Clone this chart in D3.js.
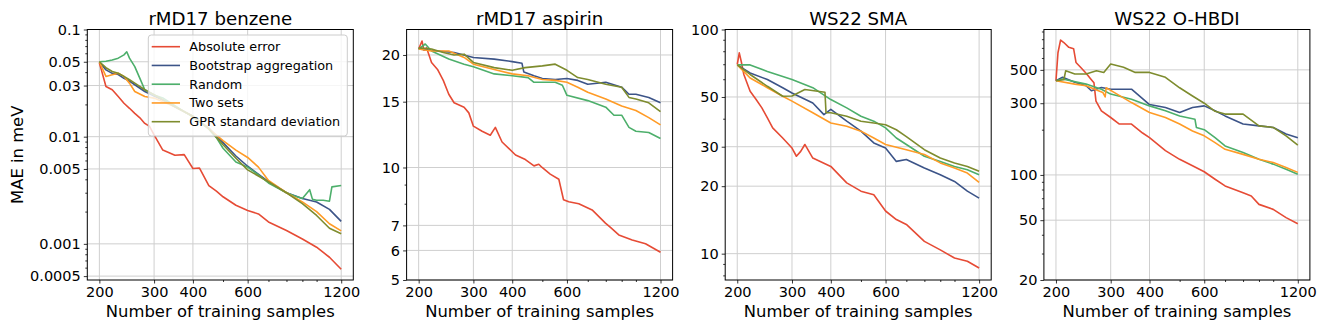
<!DOCTYPE html>
<html>
<head>
<meta charset="utf-8">
<script src="https://cdn.jsdelivr.net/npm/d3@7"></script>
<style>
  body { margin: 0; background: #fff; }
  svg { font-family: "DejaVu Sans", sans-serif; }
</style>
</head>
<body>
<div id="chart"></div>
<script>
// legend / series order
var seriesNames = ["Absolute error", "Bootstrap aggregation", "Random", "Two sets", "GPR standard deviation"]
var colors = ["#e64b35", "#3c5488", "#4daf6b", "#ff9b26", "#7e8c2e"]

var xTicks = [200, 300, 400, 600, 1200]
var xMinor = [500, 700, 800, 900, 1000]

// rMD17 benzene  [training samples, MAE]
var benzeneAbs = [[200,0.0487],[203,0.042],[210,0.0294],[220,0.0274],[230,0.0237],[240,0.0205],[250,0.0184],[260,0.0165],[270,0.015],[280,0.0133],[290,0.0125],[300,0.0104],[320,0.0075],[350,0.0067],[375,0.0068],[400,0.00505],[420,0.0051],[450,0.0035],[476,0.0031],[500,0.00275],[550,0.00229],[600,0.00205],[650,0.0019],[700,0.0016],[800,0.00133],[900,0.00111],[1000,0.00093],[1100,0.00075],[1200,0.00058]]
var benzeneBag = [[200,0.05],[210,0.042],[220,0.039],[230,0.038],[240,0.035],[250,0.033],[260,0.0305],[280,0.0264],[300,0.024],[320,0.022],[350,0.019],[400,0.0155],[450,0.012],[476,0.0102],[500,0.0088],[550,0.0066],[600,0.0053],[700,0.0038],[800,0.003],[900,0.00265],[1000,0.00246],[1100,0.0021],[1200,0.00162]]
var benzeneRand = [[200,0.05],[210,0.0505],[220,0.052],[230,0.054],[240,0.058],[245,0.062],[250,0.054],[260,0.045],[270,0.035],[280,0.0274],[300,0.0245],[320,0.023],[350,0.0195],[400,0.0152],[450,0.0118],[476,0.0098],[500,0.0078],[550,0.0058],[600,0.0052],[650,0.0044],[700,0.0037],[800,0.003],[850,0.0028],[900,0.00265],[950,0.0032],[970,0.0026],[1000,0.00255],[1050,0.00255],[1100,0.0025],[1120,0.0034],[1200,0.0035]]
var benzeneTwo = [[200,0.05],[210,0.0365],[220,0.0378],[230,0.039],[240,0.0365],[250,0.0316],[260,0.0264],[280,0.0237],[300,0.0229],[350,0.019],[400,0.0155],[450,0.0118],[500,0.0092],[550,0.0075],[600,0.0064],[650,0.0052],[700,0.0039],[800,0.003],[900,0.00246],[1000,0.002],[1100,0.00154],[1200,0.00132]]
var benzeneGpr = [[200,0.05],[210,0.044],[220,0.0406],[230,0.039],[240,0.0365],[250,0.034],[260,0.0316],[280,0.0274],[300,0.0246],[350,0.019],[400,0.0155],[450,0.0118],[500,0.0084],[550,0.0063],[600,0.0049],[700,0.0038],[800,0.003],[900,0.00237],[1000,0.00184],[1100,0.0014],[1200,0.00124]]
var benzeneTicks = [0.0005, 0.001, 0.005, 0.01, 0.03, 0.05, 0.1]

// rMD17 aspirin
var aspirinAbs = [[200,20.75],[205,21.8],[208,20.6],[212,20.9],[220,19.1],[230,18.3],[240,17.1],[250,15.7],[260,14.9],[280,14.5],[290,14.0],[300,12.9],[320,12.5],[340,12.2],[353,12.8],[371,11.7],[410,10.8],[441,10.5],[470,10.1],[487,10.2],[499,10.0],[530,9.6],[565,9.3],[585,8.2],[608,8.1],[655,8.0],[723,7.7],[798,7.1],[830,6.9],[881,6.6],[973,6.4],[1074,6.25],[1200,5.93]]
var aspirinBag = [[200,20.75],[230,20.5],[260,20.3],[300,19.7],[350,19.5],[400,19.2],[430,19.0],[436,18.0],[470,17.6],[500,17.3],[550,17.2],[600,17.3],[650,17.1],[700,16.7],[750,16.8],[800,16.9],[900,16.4],[950,15.7],[1000,15.7],[1100,15.4],[1200,14.9]]
var aspirinRand = [[200,20.75],[210,21.4],[220,20.5],[250,19.5],[280,18.9],[300,18.6],[350,17.8],[400,17.6],[450,17.4],[470,16.9],[550,16.9],[580,16.6],[600,15.6],[700,15.1],[800,14.5],[850,13.8],[900,13.8],[950,12.8],[1000,12.5],[1100,12.4],[1200,11.95]]
var aspirinTwo = [[200,20.75],[220,20.5],[250,20.5],[280,19.7],[300,18.9],[350,18.3],[400,17.8],[450,17.6],[500,17.2],[550,17.1],[600,16.9],[650,16.4],[700,15.9],[800,15.25],[900,14.6],[1000,14.2],[1100,13.6],[1200,13.0]]
var aspirinGpr = [[200,20.9],[220,20.75],[240,20.3],[260,20.0],[280,20.1],[300,19.1],[350,18.5],[400,18.2],[440,18.5],[500,18.7],[550,18.9],[600,18.2],[650,17.4],[700,17.2],[800,16.7],[900,16.4],[950,15.4],[1000,15.25],[1100,14.9],[1200,14.1]]
var aspirinTicks = [5, 6, 7, 10, 15, 20]

// WS22 SMA
var smaAbs = [[200,69.8],[203,78.7],[206,72],[210,63],[220,53],[230,48.7],[240,44.7],[250,40.3],[260,36.4],[280,32.8],[300,29.6],[310,27.2],[320,28.6],[330,30.7],[350,26.7],[400,24.5],[450,20.7],[500,19.0],[550,18.3],[600,15.5],[650,14.2],[700,13.5],[800,11.35],[900,10.4],[1000,9.56],[1100,9.25],[1200,8.63]]
var smaBag = [[200,69.5],[220,64],[250,59.8],[280,55],[300,52.1],[350,47],[380,41.7],[400,44],[450,39],[500,35.2],[550,31.2],[600,29.6],[650,25.8],[700,26.3],[800,24.1],[900,22.5],[1000,21],[1100,19.0],[1200,17.7]]
var smaRand = [[200,69.5],[220,69.5],[250,65],[300,59.8],[350,55],[400,48.7],[450,44.7],[500,41],[550,39],[600,36.4],[650,32.8],[700,30.7],[800,27.2],[900,25.8],[1000,24.5],[1100,23.7],[1200,22.5]]
var smaTwo = [[200,69.5],[220,60.8],[250,55],[280,50.4],[300,47.9],[350,42.5],[400,38.3],[450,37],[500,35.2],[550,32.8],[600,30.7],[700,29.1],[800,27.7],[900,25.4],[1000,24.1],[1100,22.9],[1200,20.8]]
var smaGpr = [[200,69.5],[220,63],[250,55.8],[280,50.4],[300,50.5],[330,54],[383,52.5],[386,42.5],[400,42.5],[450,41],[500,39],[550,38.3],[600,37.6],[650,35.7],[700,33.3],[800,29.1],[900,26.7],[1000,25.4],[1100,24.5],[1200,23.3]]
var smaTicks = [10, 20, 30, 50, 100]

// WS22 O-HBDI
var hbdiAbs = [[200,423],[203,650],[207,790],[212,760],[220,706],[228,690],[232,560],[240,520],[250,475],[260,430],[265,410],[269,310],[280,267],[300,241],[320,218],[350,218],[380,190],[400,177],[450,145],[500,127],[550,115],[600,105],[650,93.6],[700,84.5],[800,76],[850,72.5],[900,63.7],[1000,59],[1100,52],[1200,47.4]]
var hbdiBag = [[200,423],[210,446],[230,413],[250,392],[260,363],[280,382],[300,372],[350,372],[400,294],[450,281],[500,260],[550,281],[600,288],[650,267],[700,247],[800,218],[900,212],[1000,207],[1100,187],[1200,177]]
var hbdiRand = [[200,423],[210,435],[250,402],[280,372],[300,345],[350,319],[400,288],[450,267],[500,247],[560,235],[566,207],[600,200],[650,177],[700,156],[800,141],[900,127],[1000,118],[1100,109],[1200,101]]
var hbdiTwo = [[200,423],[230,402],[250,392],[283,354],[288,330],[290,380],[300,365],[350,303],[400,260],[450,241],[500,218],[550,196],[600,182],[650,164],[700,148],[800,137],[900,127],[1000,121],[1100,112],[1200,104]]
var hbdiGpr = [[200,423],[212,430],[215,493],[230,469],[250,469],[270,493],[285,480],[300,547],[330,520],[360,481],[400,481],[450,446],[500,380],[550,335],[600,300],[650,265],[700,254],[800,254],[900,212],[1000,207],[1100,182],[1200,158]]
var hbdiTicks = [20, 50, 100, 300, 500]

var width = 1329
var height = 332
var plotTop = 29.5
var plotBottom = 280
var plotWidth = 266

var panels = [
  { title: "rMD17 benzene", left: 87.3, yDomain: [0.00046, 0.1], ticks: benzeneTicks,
    series: [benzeneAbs, benzeneBag, benzeneRand, benzeneTwo, benzeneGpr] },
  { title: "rMD17 aspirin", left: 406.6, yDomain: [5, 23.4], ticks: aspirinTicks,
    series: [aspirinAbs, aspirinBag, aspirinRand, aspirinTwo, aspirinGpr] },
  { title: "WS22 SMA", left: 725.2, yDomain: [7.63, 100], ticks: smaTicks,
    series: [smaAbs, smaBag, smaRand, smaTwo, smaGpr] },
  { title: "WS22 O-HBDI", left: 1043.9, yDomain: [20, 928], ticks: hbdiTicks,
    series: [hbdiAbs, hbdiBag, hbdiRand, hbdiTwo, hbdiGpr] }
]

var svg = d3.select("#chart")
  .append("svg")
    .attr("width", width)
    .attr("height", height)

function minorTicks(domain, majors) {
  var out = []
  for (var e = -5; e <= 4; e++) {
    for (var k = 1; k <= 9; k++) {
      var v = +(k * Math.pow(10, e)).toPrecision(6)
      if (v >= domain[0] && v <= domain[1] && majors.indexOf(v) < 0) out.push(v)
    }
  }
  return out
}

panels.forEach(function(p, pi) {
  var x = d3.scaleLog()
    .domain([182.9, 1312.5])
    .range([p.left, p.left + plotWidth])
  var y = d3.scaleLog()
    .domain(p.yDomain)
    .range([plotBottom, plotTop])

  var g = svg.append("g")

  // grid
  g.selectAll(".gx").data(xTicks).enter().append("line")
    .attr("x1", function(d){ return x(d) }).attr("x2", function(d){ return x(d) })
    .attr("y1", plotTop).attr("y2", plotBottom)
    .attr("stroke", "#cfcfcf").attr("stroke-width", 1)
  g.selectAll(".gy").data(p.ticks).enter().append("line")
    .attr("x1", p.left).attr("x2", p.left + plotWidth)
    .attr("y1", function(d){ return y(d) }).attr("y2", function(d){ return y(d) })
    .attr("stroke", "#cfcfcf").attr("stroke-width", 1)

  // lines
  var clipId = "clip" + pi
  svg.append("clipPath").attr("id", clipId).append("rect")
    .attr("x", p.left).attr("y", plotTop).attr("width", plotWidth).attr("height", plotBottom - plotTop)

  var line = d3.line()
    .x(function(d){ return x(d[0]) })
    .y(function(d){ return y(d[1]) })

  g.append("g").attr("clip-path", "url(#" + clipId + ")")
    .selectAll("path").data(p.series).enter().append("path")
      .attr("d", line)
      .attr("fill", "none")
      .attr("stroke", function(d, i){ return colors[i] })
      .attr("stroke-width", 1.6)
      .attr("stroke-linejoin", "round")

  // axes
  var xAxis = d3.axisBottom(x).tickValues(xTicks).tickFormat(d3.format("d")).tickSize(3.5).tickPadding(3)
  var xAxisMinor = d3.axisBottom(x).tickValues(xMinor).tickFormat("").tickSize(2)
  var yAxis = d3.axisLeft(y).tickValues(p.ticks).tickFormat(function(d){ return String(d) }).tickSize(3.5).tickPadding(3)
  var yAxisMinor = d3.axisLeft(y).tickValues(minorTicks(p.yDomain, p.ticks)).tickFormat("").tickSize(2)

  ;[xAxis, xAxisMinor].forEach(function(a) {
    g.append("g").attr("transform", "translate(0," + plotBottom + ")").call(a)
  })
  ;[yAxis, yAxisMinor].forEach(function(a) {
    g.append("g").attr("transform", "translate(" + p.left + ",0)").call(a)
  })
  g.selectAll(".domain").remove()
  g.selectAll(".tick line").attr("stroke", "#000").attr("stroke-width", 0.8)
  g.selectAll(".tick text")
    .attr("font-family", "DejaVu Sans")
    .attr("font-size", "14.5px")
    .attr("fill", "#000")

  // frame
  g.append("rect")
    .attr("x", p.left).attr("y", plotTop)
    .attr("width", plotWidth).attr("height", plotBottom - plotTop)
    .attr("fill", "none").attr("stroke", "#000").attr("stroke-width", 1)

  // title and labels
  g.append("text")
    .attr("x", p.left + plotWidth / 2).attr("y", 25)
    .attr("text-anchor", "middle")
    .style("font-size", "18.2px")
    .text(p.title)
  g.append("text")
    .attr("x", p.left + plotWidth / 2).attr("y", 316.7)
    .attr("text-anchor", "middle")
    .style("font-size", "16.4px")
    .text("Number of training samples")

  if (pi === 0) {
    g.append("text")
      .attr("transform", "translate(22.5," + ((plotTop + plotBottom) / 2) + ") rotate(-90)")
      .attr("text-anchor", "middle")
      .style("font-size", "16.4px")
      .text("MAE in meV")

    var legend = g.append("g")
    legend.append("rect")
      .attr("x", 148.3).attr("y", 35).attr("width", 199).attr("height", 101)
      .attr("rx", 3)
      .attr("fill", "#fff").attr("fill-opacity", 0.8)
      .attr("stroke", "#cccccc").attr("stroke-width", 1)
    var rows = legend.selectAll(".row").data(seriesNames).enter().append("g")
      .attr("transform", function(d, i){ return "translate(0," + (46.7 + i * 18.75) + ")" })
    rows.append("line")
      .attr("x1", 151.7).attr("x2", 180)
      .attr("stroke", function(d, i){ return colors[i] })
      .attr("stroke-width", 1.6)
    rows.append("text")
      .attr("x", 189.3).attr("dy", "0.35em")
      .style("font-size", "12.8px")
      .text(function(d){ return d })
  }
})
</script>
</body>
</html>
